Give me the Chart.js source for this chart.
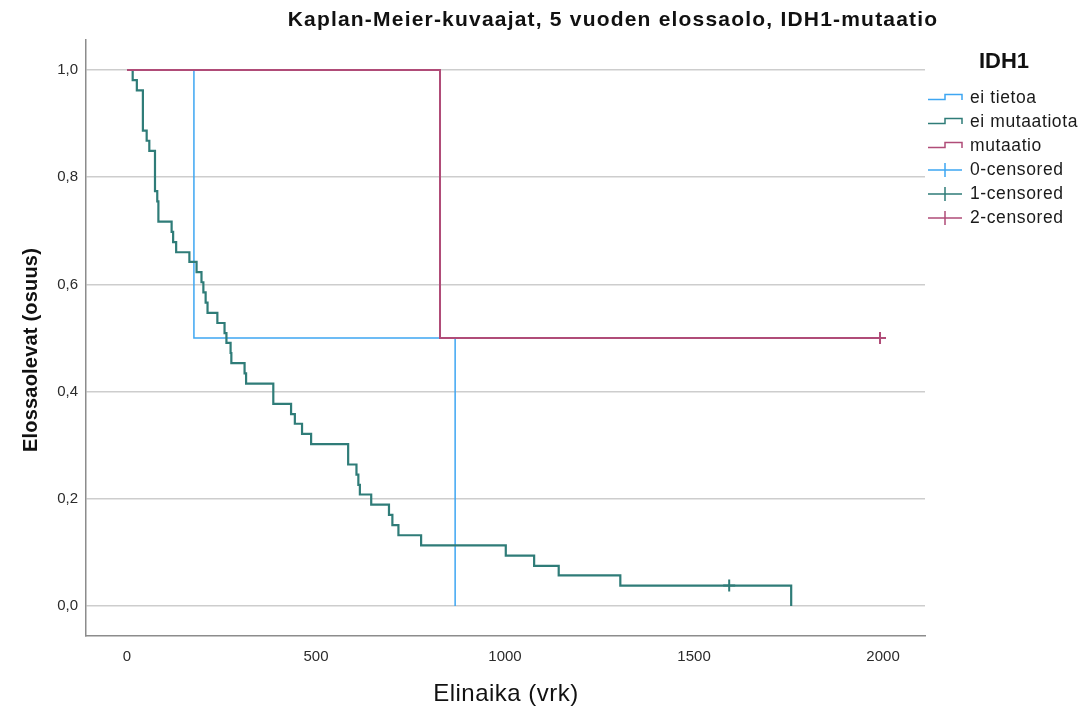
<!DOCTYPE html>
<html>
<head>
<meta charset="utf-8">
<script src="https://cdn.jsdelivr.net/npm/chart.js@4/dist/chart.umd.min.js"></script>
<style>
  html, body { margin: 0; padding: 0; background: #fff; }
  #wrap { width: 1082px; height: 708px; }
</style>
</head>
<body>
<div id="wrap"><canvas id="km" width="1082" height="708"></canvas></div>
<script>
// survival curves (days, proportion alive)
const noInfoDays = [0, 177, 868];
const noInfoSurv = [1, 0.5, 0];

const noMutDays = [0, 15, 26, 42, 52, 59, 74, 80, 83, 118,
  122, 130, 165, 184, 197, 202, 208, 213, 239, 258,
  263, 274, 276, 311, 315, 387, 434, 444, 463, 487,
  585, 607, 612, 616, 646, 693, 702, 718, 778, 1002,
  1077, 1142, 1305, 1593, 1757];
const noMutSurv = [1, 0.981, 0.962, 0.887, 0.868, 0.849, 0.774, 0.755, 0.717, 0.698,
  0.679, 0.660, 0.642, 0.623, 0.604, 0.585, 0.566, 0.547, 0.528, 0.509,
  0.491, 0.472, 0.453, 0.434, 0.415, 0.377, 0.358, 0.340, 0.321, 0.302,
  0.264, 0.245, 0.226, 0.208, 0.189, 0.170, 0.151, 0.132, 0.113, 0.094,
  0.075, 0.057, 0.038, 0.038, 0];

const mutDays = [0, 828, 1992];
const mutSurv = [1, 0.5, 0.5];

// censored marks
const noInfoCensDays = [];
const noInfoCensSurv = [];
const noMutCensDays = [1593];
const noMutCensSurv = [0.038];
const mutCensDays = [1992];
const mutCensSurv = [0.5];

const xTicks = [0, 500, 1000, 1500, 2000];
const yTicks = [0, 0.2, 0.4, 0.6, 0.8, 1.0];

const legendLabels = ["ei tietoa", "ei mutaatiota", "mutaatio", "0-censored", "1-censored", "2-censored"];

const colors = {
  noInfo: "#3ea6f2",
  noMut: "#2f7c78",
  mut: "#b04c78"
};

const FONT = "'Liberation Sans', Arial, sans-serif";

function toPoints(xs, ys) {
  return xs.map((x, i) => ({ x, y: ys[i] }));
}

function stepLine(label, xs, ys, color, width) {
  return {
    label,
    data: toPoints(xs, ys),
    borderColor: color,
    backgroundColor: color,
    borderWidth: width,
    stepped: "before",
    pointRadius: 0,
    fill: false
  };
}

function censMarks(label, xs, ys, color) {
  return {
    type: "scatter",
    label,
    data: toPoints(xs, ys),
    borderColor: color,
    backgroundColor: color,
    pointStyle: "cross",
    pointRadius: 6,
    pointBorderWidth: 2
  };
}

// titles + legend, drawn by hand
const textPlugin = {
  id: "kmText",
  afterDraw(chart) {
    const ctx = chart.ctx;
    ctx.save();
    ctx.fillStyle = "#111";
    ctx.textBaseline = "middle";
    ctx.textAlign = "center";

    ctx.font = "bold 21px " + FONT;
    ctx.letterSpacing = "1.2px";
    ctx.fillText("Kaplan-Meier-kuvaajat, 5 vuoden elossaolo, IDH1-mutaatio", 613, 20);

    ctx.font = "24px " + FONT;
    ctx.letterSpacing = "0.5px";
    ctx.fillText("Elinaika (vrk)", 506, 694);

    ctx.save();
    ctx.translate(31, 350);
    ctx.rotate(-Math.PI / 2);
    ctx.font = "bold 20px " + FONT;
    ctx.letterSpacing = "0.2px";
    ctx.fillText("Elossaolevat (osuus)", 0, 0);
    ctx.restore();

    // legend
    ctx.font = "bold 22px " + FONT;
    ctx.letterSpacing = "0px";
    ctx.fillText("IDH1", 1004, 62);

    const lineColors = [colors.noInfo, colors.noMut, colors.mut];
    ctx.textAlign = "left";
    ctx.font = "17.5px " + FONT;
    ctx.letterSpacing = "0.6px";
    legendLabels.forEach((txt, i) => {
      const y = 98 + i * 24;
      const c = lineColors[i % 3];
      ctx.strokeStyle = c;
      ctx.lineWidth = 1.5;
      ctx.beginPath();
      if (i < 3) {
        ctx.moveTo(928, y + 1.5);
        ctx.lineTo(945, y + 1.5);
        ctx.lineTo(945, y - 3.5);
        ctx.lineTo(962, y - 3.5);
        ctx.lineTo(962, y + 2);
      } else {
        ctx.moveTo(928, y);
        ctx.lineTo(962, y);
        ctx.moveTo(945, y - 7);
        ctx.lineTo(945, y + 7);
      }
      ctx.stroke();
      ctx.fillStyle = "#1a1a1a";
      ctx.fillText(txt, 970, y);
    });
    ctx.restore();
  }
};

const chart = new Chart(document.getElementById("km"), {
  type: "line",
  data: {
    datasets: [
      stepLine("mutaatio", mutDays, mutSurv, colors.mut, 2),
      stepLine("ei mutaatiota", noMutDays, noMutSurv, colors.noMut, 2.2),
      stepLine("ei tietoa", noInfoDays, noInfoSurv, colors.noInfo, 1.5),
      censMarks("0-censored", noInfoCensDays, noInfoCensSurv, colors.noInfo),
      censMarks("1-censored", noMutCensDays, noMutCensSurv, colors.noMut),
      censMarks("2-censored", mutCensDays, mutCensSurv, colors.mut)
    ]
  },
  options: {
    responsive: false,
    animation: false,
    devicePixelRatio: 1,
    layout: { padding: { top: 40, right: 157, left: 0, bottom: 0 } },
    plugins: {
      legend: { display: false },
      title: { display: false },
      tooltip: { enabled: false }
    },
    scales: {
      x: {
        type: "linear",
        min: -108.5,
        max: 2111,
        afterFit: s => { s.height = 72; },
        afterBuildTicks: s => { s.ticks = xTicks.map(v => ({ value: v })); },
        grid: { display: true, drawOnChartArea: false, drawTicks: false },
        border: { display: true, color: "#8c8c8c", width: 1.5 },
        ticks: {
          padding: 12,
          color: "#2b2b2b",
          font: { family: FONT, size: 15 },
          maxRotation: 0,
          callback: v => String(v)
        }
      },
      y: {
        min: -0.056,
        max: 1.056,
        afterFit: s => { s.width = 86; },
        afterBuildTicks: s => { s.ticks = yTicks.map(v => ({ value: v })); },
        grid: { color: "#cdcdcd", lineWidth: 1.5, drawTicks: false },
        border: { display: true, color: "#8c8c8c", width: 1.5 },
        ticks: {
          padding: 8,
          color: "#2b2b2b",
          font: { family: FONT, size: 15 },
          callback: v => v.toFixed(1).replace(".", ",")
        }
      }
    }
  },
  plugins: [textPlugin]
});
</script>
</body>
</html>
